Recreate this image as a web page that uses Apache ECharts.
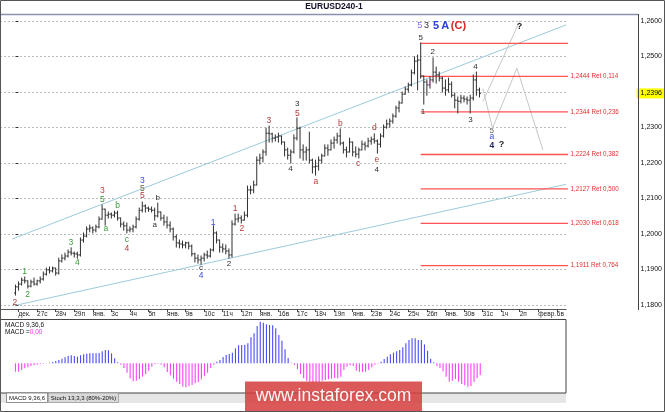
<!DOCTYPE html>
<html><head><meta charset="utf-8">
<script src="https://cdn.jsdelivr.net/npm/echarts@6/dist/echarts.min.js"></script>
<style>html,body{margin:0;padding:0;background:#fff;}#c{width:665px;height:412px;}</style>
</head><body><div id="c"></div>
<script>
// ---------- data ----------
const dayLabels = ['дек.','27с','28ч','29п','янв.','3с','4ч','5п','янв.','9в','10с','11ч','12п','янв.','16в','17с','18ч','19п','янв.','23в','24с','25ч','26п','янв.','30в','31с','1ч','2п','февр.','6в'];

const barOpen = [1.1834,1.1851,1.1859,1.1870,1.1868,1.1853,1.1865,1.1859,1.1868,1.1873,
1.1887,1.1899,1.1896,1.1904,1.1890,1.1924,1.1932,1.1938,1.1949,1.1946,
1.1944,1.1941,1.1983,1.1994,1.2014,1.2017,1.2011,1.2020,1.2042,1.2070,
1.2053,1.2056,1.2053,1.2059,1.2045,1.2028,1.2023,1.2011,1.2014,1.2020,
1.2042,1.2067,1.2079,1.2073,1.2070,1.2067,1.2051,1.2062,1.2045,1.2034,
1.2025,1.2014,1.1992,1.1975,1.1972,1.1969,1.1975,1.1966,1.1944,1.1932,
1.1927,1.1932,1.1941,1.1938,1.1955,1.2003,1.1983,1.1963,1.1958,1.1952,
1.1941,1.2028,1.2042,1.2045,1.2039,1.2053,1.2124,1.2124,1.2138,1.2208,
1.2214,1.2231,1.2284,1.2282,1.2270,1.2273,1.2276,1.2259,1.2237,1.2222,
1.2231,1.2270,1.2298,1.2237,1.2231,1.2237,1.2208,1.2189,1.2191,1.2208,
1.2220,1.2242,1.2237,1.2256,1.2265,1.2276,1.2256,1.2237,1.2231,1.2259,
1.2231,1.2225,1.2237,1.2253,1.2248,1.2262,1.2267,1.2262,1.2253,1.2276,
1.2301,1.2310,1.2318,1.2332,1.2355,1.2369,1.2394,1.2408,1.2420,1.2454,
1.2487,1.2490,1.2445,1.2428,1.2420,1.2434,1.2456,1.2448,1.2439,1.2411,
1.2406,1.2422,1.2391,1.2377,1.2374,1.2383,1.2380,1.2377,1.2383,1.2434,
1.2406];
const barHigh = [1.1856,1.1865,1.1876,1.1879,1.1868,1.1870,1.1876,1.1870,1.1879,1.1893,
1.1904,1.1907,1.1907,1.1904,1.1932,1.1941,1.1946,1.1955,1.1961,1.1949,
1.1949,1.1989,1.2003,1.2020,1.2025,1.2020,1.2025,1.2048,1.2082,1.2070,
1.2062,1.2059,1.2064,1.2064,1.2045,1.2034,1.2031,1.2020,1.2025,1.2048,
1.2073,1.2090,1.2082,1.2076,1.2076,1.2073,1.2087,1.2062,1.2053,1.2048,
1.2034,1.2017,1.1997,1.1983,1.1980,1.1977,1.1977,1.1969,1.1946,1.1941,
1.1938,1.1946,1.1952,1.1958,1.2023,1.2006,1.1983,1.1972,1.1969,1.1958,
1.2037,1.2056,1.2056,1.2051,1.2062,1.2135,1.2135,1.2149,1.2217,1.2225,
1.2237,1.2298,1.2304,1.2284,1.2279,1.2284,1.2276,1.2259,1.2242,1.2237,
1.2279,1.2327,1.2301,1.2251,1.2245,1.2287,1.2211,1.2208,1.2217,1.2225,
1.2251,1.2251,1.2265,1.2273,1.2284,1.2296,1.2259,1.2245,1.2270,1.2259,
1.2245,1.2242,1.2262,1.2259,1.2270,1.2273,1.2282,1.2265,1.2282,1.2307,
1.2321,1.2324,1.2338,1.2360,1.2374,1.2400,1.2414,1.2425,1.2462,1.2499,
1.2504,1.2538,1.2445,1.2434,1.2442,1.2496,1.2470,1.2456,1.2442,1.2434,
1.2439,1.2428,1.2397,1.2386,1.2391,1.2389,1.2386,1.2391,1.2448,1.2456,
1.2411];
const barLow = [1.1828,1.1842,1.1856,1.1862,1.1848,1.1851,1.1856,1.1856,1.1862,1.1870,
1.1884,1.1890,1.1893,1.1884,1.1887,1.1921,1.1927,1.1935,1.1941,1.1935,
1.1932,1.1938,1.1977,1.1992,1.2006,1.2003,1.2006,1.2017,1.2042,1.2025,
1.2045,1.2045,1.2048,1.2039,1.2020,1.2011,1.2003,1.2006,1.2006,1.2017,
1.2039,1.2062,1.2062,1.2064,1.2062,1.2039,1.2048,1.2039,1.2025,1.2017,
1.2006,1.1983,1.1963,1.1961,1.1961,1.1961,1.1958,1.1938,1.1921,1.1918,
1.1915,1.1924,1.1932,1.1935,1.1952,1.1975,1.1949,1.1949,1.1944,1.1932,
1.1935,1.2025,1.2034,1.2031,1.2039,1.2048,1.2113,1.2116,1.2138,1.2197,
1.2203,1.2222,1.2259,1.2259,1.2262,1.2259,1.2253,1.2220,1.2211,1.2200,
1.2228,1.2265,1.2214,1.2208,1.2208,1.2200,1.2172,1.2166,1.2180,1.2200,
1.2220,1.2222,1.2237,1.2242,1.2256,1.2251,1.2228,1.2217,1.2231,1.2220,
1.2217,1.2214,1.2237,1.2237,1.2245,1.2253,1.2256,1.2228,1.2245,1.2273,
1.2298,1.2301,1.2312,1.2329,1.2344,1.2369,1.2394,1.2400,1.2417,1.2451,
1.2406,1.2439,1.2366,1.2391,1.2411,1.2428,1.2425,1.2431,1.2400,1.2391,
1.2400,1.2386,1.2355,1.2341,1.2369,1.2372,1.2366,1.2341,1.2377,1.2391,
1.2386];
const barClose = [1.1851,1.1859,1.1870,1.1868,1.1853,1.1865,1.1859,1.1868,1.1873,1.1887,
1.1899,1.1896,1.1904,1.1890,1.1924,1.1932,1.1938,1.1949,1.1946,1.1944,
1.1941,1.1983,1.1994,1.2014,1.2017,1.2011,1.2020,1.2042,1.2070,1.2053,
1.2056,1.2053,1.2059,1.2045,1.2028,1.2023,1.2011,1.2014,1.2020,1.2042,
1.2067,1.2079,1.2073,1.2070,1.2067,1.2051,1.2062,1.2045,1.2034,1.2025,
1.2014,1.1992,1.1975,1.1972,1.1969,1.1975,1.1966,1.1944,1.1932,1.1927,
1.1932,1.1941,1.1938,1.1955,1.2003,1.1983,1.1963,1.1958,1.1952,1.1941,
1.2028,1.2042,1.2045,1.2039,1.2053,1.2124,1.2124,1.2138,1.2208,1.2214,
1.2231,1.2284,1.2282,1.2270,1.2273,1.2276,1.2259,1.2237,1.2222,1.2231,
1.2270,1.2298,1.2237,1.2231,1.2237,1.2208,1.2189,1.2191,1.2208,1.2220,
1.2242,1.2237,1.2256,1.2265,1.2276,1.2256,1.2237,1.2231,1.2259,1.2231,
1.2225,1.2237,1.2253,1.2248,1.2262,1.2267,1.2262,1.2253,1.2276,1.2301,
1.2310,1.2318,1.2332,1.2355,1.2369,1.2394,1.2408,1.2420,1.2454,1.2487,
1.2490,1.2445,1.2428,1.2420,1.2434,1.2456,1.2448,1.2439,1.2411,1.2406,
1.2422,1.2391,1.2377,1.2374,1.2383,1.2380,1.2377,1.2383,1.2434,1.2406,
1.2396];

// MACD(9,36,6) histogram, in points (0.00001)
const macdHist = [-75,-75,-60,-45,-36,-24,-18,-12,-6,-3,
2,6,12,21,30,42,54,66,72,66,
60,72,81,87,90,90,90,93,108,120,
117,90,45,9,-12,-42,-84,-135,-162,-156,
-141,-120,-96,-66,-30,-9,-3,-12,-36,-78,
-108,-138,-165,-186,-210,-216,-207,-195,-180,-168,
-144,-114,-84,-42,-12,15,30,57,75,84,
96,135,162,165,168,180,234,270,336,375,
366,351,345,342,315,255,204,126,48,6,
-15,-54,-96,-135,-156,-165,-174,-168,-165,-156,
-150,-144,-138,-132,-135,-120,-60,-30,-18,-24,
-66,-75,-78,-75,-60,-36,-12,-3,15,39,
60,81,96,108,120,144,180,210,225,225,
210,210,171,114,42,9,-24,-42,-72,-120,
-165,-156,-141,-165,-186,-198,-210,-204,-168,-135,
-105];

const priceMin = 1.18, priceMax = 1.26, priceStep = 0.01;
const lastPrice = 1.2396;

const fibLevels = [1.2537, 1.2444, 1.2344, 1.2224, 1.2127, 1.2030, 1.1911];
const fibRatios = ['', '0,114', '0,236', '0,382', '0,500', '0,618', '0,764'];
const fibStartBar = 131, fibEndBar = 178.6;

const channelUpper = [[-1.05, 1.1986], [178, 1.2589]];
const channelLower = [[0, 1.1799], [178, 1.2140]];
const projectionA = [[151.1, 1.2410], [154.2, 1.2298], [162.1, 1.2467], [170.5, 1.2237]];
const projectionB = [[151.1, 1.2373], [163.3, 1.2605]];

// [bar index, price, text, style]
const waveLabels = [
 [130.7,1.2586,'5','topPurple'],[132.9,1.2586,'3','topDark'],[136.0,1.2586,'5','topBlue'],
 [138.9,1.2586,'A','topBlue'],[143.2,1.2586,'(C)','topRed'],
 [131.0,1.2554,'5','dark'],[134.9,1.2513,'2','dark'],[148.7,1.2471,'4','dark'],
 [131.7,1.2344,'1','dark'],[133.9,1.2424,'↑','magenta'],[147.1,1.2321,'3','dark'],
 [154.0,1.2291,'5','gray'],[154.0,1.2274,'a','blue'],[154.0,1.2249,'4','navy'],
 [157.1,1.2251,'?','darkBold'],[162.9,1.2584,'?','darkBold'],
 [105.0,1.2310,'b','red'],[116.0,1.2299,'d','red'],[110.8,1.2199,'c','red'],
 [116.8,1.2210,'e','red'],[116.8,1.2182,'4','dark'],
 [81.9,1.2318,'3','red'],[91.1,1.2368,'3','dark'],[91.1,1.2340,'5','red'],
 [88.9,1.2185,'4','dark'],[97.1,1.2147,'a','red'],
 [2.96,1.1894,'1','green'],[3.9,1.1830,'2','green'],[17.9,1.1975,'3','green'],
 [20.0,1.1920,'4','green'],[28.1,1.2122,'3','red'],[28.1,1.2098,'5','green'],
 [29.2,1.2014,'a','green'],[33.0,1.2079,'b','green'],[36.0,1.1983,'c','green'],
 [36.0,1.1959,'4','red'],[41.0,1.2149,'3','blue'],[41.0,1.2127,'5','olive'],
 [41.0,1.2108,'5','red'],[46.0,1.2102,'b','dark'],[45.0,1.2025,'a','dark'],
 [60.0,1.1905,'c','dark'],[60.0,1.1882,'4','blue'],[63.9,1.2032,'1','blue'],
 [69.0,1.1917,'2','dark'],[71.0,1.2072,'1','red'],[73.2,1.2014,'2','red'],
 [-0.2,1.1808,'2','red']
];

// ---------- styles ----------
const FONT = '"Liberation Sans", Arial, sans-serif';
const labelStyles = {
  topPurple:{c:'#7b6cf0',s:9,w:'normal'}, topDark:{c:'#333',s:9,w:'normal'},
  topBlue:{c:'#2b3fe0',s:11,w:'bold'}, topRed:{c:'#d92626',s:11,w:'bold'},
  dark:{c:'#2d2d2d',s:8,w:'normal'}, gray:{c:'#666',s:8,w:'normal'},
  blue:{c:'#3a4de0',s:8.5,w:'normal'}, navy:{c:'#23235e',s:8.5,w:'bold'},
  darkBold:{c:'#222',s:9,w:'bold'}, red:{c:'#b83a3a',s:8.5,w:'normal'},
  green:{c:'#3c9a3c',s:8.5,w:'normal'}, olive:{c:'#77663a',s:8.5,w:'normal'},
  magenta:{c:'#e020e0',s:8.5,w:'normal'}
};
const X_MIN = -5, X_MAX = 178, X_STEP = 6;
const Y_AXIS_OFFSET = 71;
const fmtPrice = v => v.toFixed(4).replace('.', ',');

const chart = echarts.init(document.getElementById('c'), null, {renderer:'canvas'});

const ohlcData = barOpen.map((o,i)=>[i,o,barHigh[i],barLow[i],barClose[i]]);
const macdData = macdHist.map((v,i)=>[i,v]);

chart.setOption({
  animation:false,
  backgroundColor:'#fff',
  grid:[
    {left:-12.5, right:98, top:21, bottom:107},
    {left:-12.5, right:98, top:319, bottom:19}
  ],
  xAxis:[
    {type:'value', gridIndex:0, min:X_MIN, max:X_MAX, interval:X_STEP, offset:4,
     axisLine:{show:true, lineStyle:{color:'#555', width:1}},
     axisTick:{show:true, length:3, lineStyle:{color:'#444'}},
     splitLine:{show:false},
     axisLabel:{show:true, fontSize:6.5, color:'#222', fontFamily:'Liberation Sans', align:'left', margin:2,
       showMinLabel:false, showMaxLabel:false,
       formatter:v=>{const n=(v-1)/6; const r=Math.round(n); if(Math.abs(n-r)>1e-6||r<0||r>=dayLabels.length) return ''; return dayLabels[r];}}},
    {type:'value', gridIndex:1, min:X_MIN, max:X_MAX, show:false}
  ],
  yAxis:[
    {type:'value', gridIndex:0, min:priceMin, max:priceMax, interval:priceStep, position:'right', offset:Y_AXIS_OFFSET,
     axisLine:{show:false},
     axisTick:{show:true, length:3, lineStyle:{color:'#333'}},
     axisLabel:{fontSize:7, color:'#111', fontFamily:'Liberation Sans', margin:3.5, formatter:fmtPrice},
     splitLine:{show:true, lineStyle:{color:'#bcbcbc', width:1, type:[2,2]}}},
    {type:'value', gridIndex:1, min:-267, max:399, show:false, splitLine:{show:false}}
  ],
  series:[
    {type:'line', data:channelUpper, symbol:'none', silent:true, lineStyle:{color:'#9ccbdb', width:1}, z:1},
    {type:'line', data:channelLower, symbol:'none', silent:true, lineStyle:{color:'#9ccbdb', width:1}, z:1},
    {type:'line', data:projectionA, symbol:'none', silent:true, lineStyle:{color:'#c6c6c6', width:1}, z:1},
    {type:'line', data:projectionB, symbol:'none', silent:true, lineStyle:{color:'#c6c6c6', width:1}, z:1},
    {type:'custom', silent:true, clip:false, z:2,
     data:fibLevels.map(lv=>[fibStartBar, lv]),
     encode:{x:0,y:1},
     renderItem:(params, api)=>{
       const k = params.dataIndex;
       const a = api.coord([fibStartBar, fibLevels[k]]);
       const b = api.coord([fibEndBar, fibLevels[k]]);
       const ch = [{type:'line', shape:{x1:a[0],y1:a[1],x2:b[0],y2:b[1]}, style:{stroke:'#ff5252', lineWidth:1.3}}];
       if (fibRatios[k]) ch.push({type:'text', x:b[0]+2.5, y:a[1], style:{text:fmtPrice(fibLevels[k])+' Ret '+fibRatios[k], fill:'#e53030', font:'6.3px '+FONT, align:'left', verticalAlign:'middle', textAlign:'left', textVerticalAlign:'middle'}});
       return {type:'group', children:ch};
     }},
    {type:'custom', silent:true, z:3, data:ohlcData, encode:{x:0,y:[2,3]},
     renderItem:(params, api)=>{
       const x = api.value(0);
       const pO = api.coord([x, api.value(1)]), pH = api.coord([x, api.value(2)]);
       const pL = api.coord([x, api.value(3)]), pC = api.coord([x, api.value(4)]);
       const st = {stroke:'#2f2f2f', lineWidth:1};
       return {type:'group', children:[
         {type:'line', shape:{x1:pH[0],y1:pH[1]-0.5,x2:pL[0],y2:pL[1]+0.5}, style:st},
         {type:'line', shape:{x1:pO[0]-1.4,y1:pO[1],x2:pO[0],y2:pO[1]}, style:st},
         {type:'line', shape:{x1:pC[0],y1:pC[1],x2:pC[0]+1.4,y2:pC[1]}, style:st}
       ]};
     }},
    {type:'custom', silent:true, clip:false, z:4,
     data:waveLabels.map(d=>[d[0], d[1]]), encode:{x:0,y:1},
     renderItem:(params, api)=>{
       const d = waveLabels[params.dataIndex];
       const s = labelStyles[d[3]];
       const p = api.coord([api.value(0), api.value(1)]);
       return {type:'text', x:p[0], y:p[1], style:{text:d[2], fill:s.c, font:s.w+' '+s.s+'px '+FONT, align:'center', verticalAlign:'middle', textAlign:'center', textVerticalAlign:'middle'}};
     }},
    {type:'custom', silent:true, clip:false, z:5,
     data:[[barClose.length-1, lastPrice]], encode:{x:0,y:1},
     renderItem:(params, api)=>{
       const p = api.coord([api.value(0), api.value(1)]);
       const ax = api.coord([X_MAX, api.value(1)])[0] + Y_AXIS_OFFSET;
       return {type:'group', children:[
         {type:'rect', shape:{x:ax-0.5, y:p[1]-5, width:665-ax, height:10}, style:{fill:'#ffff00'}},
         {type:'text', x:ax+3.5, y:p[1], style:{text:fmtPrice(lastPrice), fill:'#000', font:'7px '+FONT, align:'left', verticalAlign:'middle', textAlign:'left', textVerticalAlign:'middle'}}
       ]};
     }},
    {type:'custom', silent:true, xAxisIndex:1, yAxisIndex:1, data:macdData, encode:{x:0,y:1},
     renderItem:(params, api)=>{
       const x = api.value(0), v = api.value(1);
       const a = api.coord([x, 0]), b = api.coord([x, v]);
       return {type:'line', shape:{x1:a[0],y1:a[1],x2:b[0],y2:b[1]}, style:{stroke: v>=0 ? '#4a4aff' : '#ff40ff', lineWidth:1.1}};
     }}
  ],
  graphic:[
    {type:'text', x:334, y:7, style:{text:'EURUSD240-1', fill:'#15152a', font:'bold 8.5px '+FONT, align:'center', verticalAlign:'middle', textAlign:'center', textVerticalAlign:'middle'}, z:50},
    {type:'line', shape:{x1:0, y1:14.5, x2:638, y2:14.5}, style:{stroke:'#8a8fb0', lineWidth:1.5}, z:50},
    {type:'line', shape:{x1:638.5, y1:14, x2:638.5, y2:310}, style:{stroke:'#444', lineWidth:1}, z:50},
    {type:'rect', shape:{x:0.5, y:319.5, width:565.5, height:73.5}, style:{fill:'none', stroke:'#444', lineWidth:1}, z:50},
    {type:'text', x:5, y:325, style:{text:'MACD 9,36,6', fill:'#111', font:'6.5px '+FONT, align:'left', verticalAlign:'middle', textAlign:'left', textVerticalAlign:'middle'}, z:50},
    {type:'text', x:5, y:332.5, style:{text:'{a|MACD =}{b|0,00}', rich:{a:{fill:'#111', font:'6.5px '+FONT}, b:{fill:'#ff33ff', font:'6.5px '+FONT}}, align:'left', verticalAlign:'middle', textAlign:'left', textVerticalAlign:'middle'}, z:50},
    {type:'rect', shape:{x:0.5, y:393, width:565.5, height:10}, style:{fill:'#e6e6e6'}, z:49},
    {type:'rect', shape:{x:6.5, y:393, width:41, height:9.5}, style:{fill:'#fff', stroke:'#777', lineWidth:0.8}, z:50},
    {type:'text', x:27, y:398, style:{text:'MACD 9,36,6', fill:'#111', font:'6px '+FONT, align:'center', verticalAlign:'middle', textAlign:'center', textVerticalAlign:'middle'}, z:51},
    {type:'rect', shape:{x:48.5, y:393, width:70, height:9.5}, style:{fill:'#dadada', stroke:'#999', lineWidth:0.8}, z:50},
    {type:'text', x:83.5, y:398, style:{text:'Stoch 13,3,3 (80%-20%)', fill:'#111', font:'6px '+FONT, align:'center', verticalAlign:'middle', textAlign:'center', textVerticalAlign:'middle'}, z:51},
    {type:'rect', shape:{x:245, y:381.5, width:177, height:31}, style:{fill:'rgba(214,62,62,0.86)'}, z:60},
    {type:'text', x:333.5, y:396.5, style:{text:'www.instaforex.com', fill:'#f7f7f7', font:'17.5px '+FONT, align:'center', verticalAlign:'middle', textAlign:'center', textVerticalAlign:'middle'}, z:61},
    {type:'rect', shape:{x:0.5, y:0.5, width:664, height:411}, style:{fill:'none', stroke:'#555', lineWidth:1}, z:70}
  ]
});
</script></body></html>
